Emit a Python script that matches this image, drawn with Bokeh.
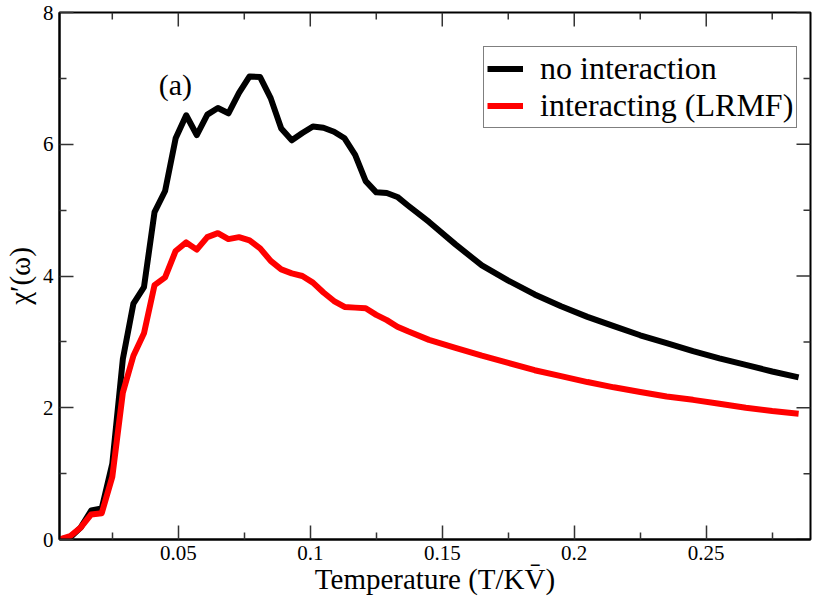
import math
from bokeh.plotting import figure
from bokeh.models import Range1d, FixedTicker, Legend, LegendItem, Label
from bokeh.embed import file_html
from bokeh.resources import INLINE

# ---- data ----
temperature = [0.005, 0.009, 0.013, 0.017, 0.021, 0.025, 0.029, 0.033, 0.037, 0.041,
               0.045, 0.049, 0.053, 0.057, 0.061, 0.065, 0.069, 0.073, 0.077, 0.081,
               0.085, 0.089, 0.093, 0.097, 0.101, 0.105, 0.109, 0.113, 0.117, 0.121,
               0.125, 0.129, 0.133, 0.137,
               0.145, 0.155, 0.165, 0.175, 0.185, 0.195, 0.205, 0.215, 0.225, 0.235,
               0.245, 0.255, 0.265, 0.275, 0.285]

chi_no_interaction = [0.00, 0.03, 0.18, 0.44, 0.47, 1.15, 2.74, 3.58, 3.83, 4.97,
                      5.29, 6.09, 6.44, 6.14, 6.45, 6.55, 6.47, 6.78, 7.03, 7.02,
                      6.70, 6.24, 6.06, 6.17, 6.27, 6.25, 6.19, 6.09, 5.84, 5.44,
                      5.27, 5.26, 5.20, 5.07,
                      4.82, 4.48, 4.16, 3.93, 3.72, 3.54, 3.38, 3.24, 3.10, 2.98,
                      2.86, 2.75, 2.65, 2.55, 2.46]

chi_interacting = [0.00, 0.05, 0.18, 0.38, 0.40, 0.95, 2.23, 2.79, 3.13, 3.86,
                   3.98, 4.38, 4.51, 4.40, 4.59, 4.65, 4.56, 4.59, 4.54, 4.42,
                   4.23, 4.10, 4.04, 4.00, 3.90, 3.75, 3.62, 3.53, 3.52, 3.51,
                   3.41, 3.33, 3.23, 3.16,
                   3.03, 2.91, 2.79, 2.68, 2.57, 2.48, 2.39, 2.31, 2.24, 2.17,
                   2.12, 2.06, 2.00, 1.95, 1.91]

series_labels = ["no interaction", "interacting (LRMF)"]
series_colors = ["black", "#ff0000"]

x_major_ticks = [0.05, 0.1, 0.15, 0.2, 0.25]
x_tick_labels = ["0.05", "0.1", "0.15", "0.2", "0.25"]
x_minor_ticks = [0.025, 0.075, 0.125, 0.175, 0.225, 0.275]
y_major_ticks = [0, 2, 4, 6, 8]
y_tick_labels = ["0", "2", "4", "6", "8"]
y_minor_ticks = [1, 3, 5, 7]

X_START, X_END = 0.005, 0.2895
Y_START, Y_END = 0, 8

FONT = "Times New Roman"

p = figure(width=814, height=597, output_backend="svg", toolbar_location=None,
           x_range=Range1d(X_START, X_END), y_range=Range1d(Y_START, Y_END),
           x_axis_label="Temperature (T/KV\u0304)", y_axis_label="\u03c7\u2032(\u03c9)",
           min_border_left=50, min_border_right=4, min_border_top=12, min_border_bottom=0)

p.background_fill_color = "white"
p.border_fill_color = "white"
p.outline_line_color = "black"
p.outline_line_width = 2
p.xgrid.visible = False
p.ygrid.visible = False

TICK_COLOR = "#333333"
for ax in (p.xaxis[0], p.yaxis[0]):
    ax.axis_line_width = 2
    ax.axis_line_color = "black"
    ax.major_tick_in = 14
    ax.major_tick_out = 0
    ax.minor_tick_in = 7
    ax.minor_tick_out = 0
    ax.major_tick_line_width = 1.5
    ax.minor_tick_line_width = 1.5
    ax.major_tick_line_color = TICK_COLOR
    ax.minor_tick_line_color = TICK_COLOR
    ax.major_label_text_font = FONT
    ax.major_label_text_font_size = "21px"
    ax.major_label_text_color = "black"
    ax.axis_label_text_font = FONT
    ax.axis_label_text_font_size = "29px"
    ax.axis_label_text_font_style = "normal"
    ax.axis_label_text_color = "black"

p.xaxis.ticker = FixedTicker(ticks=x_major_ticks, minor_ticks=x_minor_ticks)
p.yaxis.ticker = FixedTicker(ticks=y_major_ticks, minor_ticks=y_minor_ticks)
p.xaxis.major_label_overrides = dict(zip(x_major_ticks, x_tick_labels))
p.yaxis.major_label_overrides = dict(zip(y_major_ticks, y_tick_labels))
p.xaxis.major_label_standoff = 6
p.xaxis.axis_label_standoff = 0
p.yaxis.major_label_standoff = 6
p.yaxis.axis_label_standoff = 4

# mirrored inward ticks on the top and right frame edges
p.ray(x=x_major_ticks, y=[Y_END] * len(x_major_ticks), length=14, length_units="screen",
      angle=-math.pi / 2, line_color=TICK_COLOR, line_width=1.5)
p.ray(x=x_minor_ticks, y=[Y_END] * len(x_minor_ticks), length=7, length_units="screen",
      angle=-math.pi / 2, line_color=TICK_COLOR, line_width=1.5)
p.ray(x=[X_END] * len(y_major_ticks), y=y_major_ticks, length=14, length_units="screen",
      angle=math.pi, line_color=TICK_COLOR, line_width=1.5)
p.ray(x=[X_END] * len(y_minor_ticks), y=y_minor_ticks, length=7, length_units="screen",
      angle=math.pi, line_color=TICK_COLOR, line_width=1.5)

r1 = p.line(temperature, chi_no_interaction, line_color=series_colors[0], line_width=6,
            line_join="round")
r2 = p.line(temperature, chi_interacting, line_color=series_colors[1], line_width=6,
            line_join="round")

legend = Legend(items=[LegendItem(label=series_labels[0], renderers=[r1]),
                       LegendItem(label=series_labels[1], renderers=[r2])],
                location=(424, 411))
legend.label_text_font = FONT
legend.label_text_font_size = "32px"
legend.label_text_color = "black"
legend.border_line_color = "black"
legend.border_line_width = 1.5
legend.padding = 3
legend.spacing = 0
legend.glyph_width = 36
legend.glyph_height = 33
legend.label_height = 33
legend.label_standoff = 17
legend.margin = 0
legend.background_fill_alpha = 1
p.add_layout(legend)

p.add_layout(Label(x=0.0426, y=6.9, text="(a)", text_font=FONT, text_font_size="30px",
                   text_color="black", text_baseline="alphabetic"))

open("out.html", "w").write(file_html(p, INLINE))
